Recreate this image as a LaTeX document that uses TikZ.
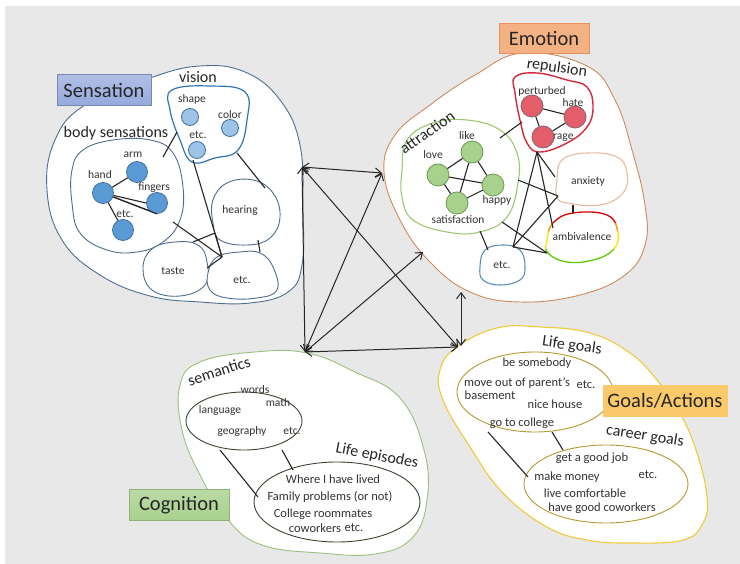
\documentclass[tikz,border=0pt]{standalone}
\usepackage{fontspec}
\setmainfont{Carlito}
\usetikzlibrary{arrows.meta}
\definecolor{bgc}{HTML}{E8E8E8}
\definecolor{sensc}{HTML}{4E6E8E}
\definecolor{visc}{HTML}{2E75B6}
\definecolor{vdot}{HTML}{9DC3E6}
\definecolor{bdot}{HTML}{5B9BD5}
\definecolor{dotln}{HTML}{41719C}
\definecolor{emoc}{HTML}{D08A5C}
\definecolor{emolab}{HTML}{F4B183}
\definecolor{emolabd}{HTML}{E8915A}
\definecolor{repc}{HTML}{D42A3C}
\definecolor{rdot}{HTML}{E35D6A}
\definecolor{rdotd}{HTML}{8C6070}
\definecolor{attc}{HTML}{9CC870}
\definecolor{gdot}{HTML}{A9D18E}
\definecolor{gdotd}{HTML}{6E9A50}
\definecolor{anxc}{HTML}{EDBB9A}
\definecolor{etcc}{HTML}{5B8FC0}
\definecolor{cogc}{HTML}{9CBF7C}
\definecolor{coglab}{HTML}{A9D18E}
\definecolor{innc}{HTML}{3C4530}
\definecolor{goalc}{HTML}{EFCB3A}
\definecolor{goalin}{HTML}{B8982E}
\definecolor{goallab}{HTML}{F9C96A}
\definecolor{senslab}{HTML}{95AADD}
\definecolor{txt}{HTML}{333333}
\tikzset{
  blob/.style={line width=0.9pt, fill=white},
  conn/.style={line width=1.1pt, draw=black!85},
  arr/.style={line width=1pt, draw=black!85, {Straight Barb[length=6pt,width=9pt]}-{Straight Barb[length=6pt,width=9pt]}},
  itm/.style={font=\fontsize{11.5}{13}\selectfont, text=txt, inner sep=0pt},
  itmb/.style={font=\fontsize{12.5}{14}\selectfont, text=txt, inner sep=0pt},
  grp/.style={font=\fontsize{16}{18}\selectfont, text=black!85, inner sep=0pt},
  biglab/.style={font=\fontsize{20.5}{24}\selectfont, text=black!85, inner sep=0pt},
  vdotst/.style={circle, fill=vdot, draw=dotln, line width=0.8pt, minimum size=17pt, inner sep=0pt},
  bdotst/.style={circle, fill=bdot, draw=dotln, line width=0.8pt, minimum size=21pt, inner sep=0pt},
  rdotst/.style={circle, fill=rdot, draw=rdotd, line width=0.8pt, minimum size=22pt, inner sep=0pt},
  gdotst/.style={circle, fill=gdot, draw=gdotd, line width=0.8pt, minimum size=22pt, inner sep=0pt},
}
\newcommand\ambdraw[1]{\draw[#1] plot[smooth cycle, tension=0.7] coordinates {(547,240) (553,223) (573,213) (607,215) (618,233) (613,250) (593,260) (567,262) (548,253)};}
\begin{document}
\begin{tikzpicture}[x=1pt,y=-1pt]
\useasboundingbox (0,0) rectangle (740,564);
\fill[white] (0,0) rectangle (740,564);
\fill[bgc] (5,6) rectangle (740,564);

% ---------------- Sensation ----------------
\draw[blob, draw=sensc] plot[smooth cycle, tension=0.7] coordinates {(150,78) (200,66) (245,72) (280,100) (300,145) (303,210) (302,265) (288,292) (250,303) (200,302) (150,296) (100,275) (62,240) (47,190) (55,140) (85,105)};
% body sensations group
\draw[blob, draw=sensc] plot[smooth cycle, tension=0.7] coordinates {(72,170) (83,150) (113,140) (150,140) (173,153) (183,187) (180,220) (163,242) (137,252) (107,250) (80,233) (72,203)};
% vision group
\draw[blob, draw=visc, line width=1.2pt] plot[smooth cycle, tension=0.7] coordinates {(172,90) (210,86) (245,92) (247,120) (238,150) (215,158) (192,162) (180,140) (170,110)};
% hearing, taste, etc
\draw[blob, draw=sensc] plot[smooth cycle, tension=0.7] coordinates {(213,200) (227,183) (253,180) (273,193) (280,217) (270,238) (247,245) (220,240) (213,223)};
\draw[blob, draw=sensc] plot[smooth cycle, tension=0.7] coordinates {(143,268) (152,249) (175,242) (198,245) (207,262) (205,285) (180,296) (152,290)};
\draw[blob, draw=sensc] plot[smooth cycle, tension=0.7] coordinates {(208,273) (217,257) (240,252) (260,253) (273,267) (277,290) (257,298) (227,298) (210,290)};

\node[biglab, draw=senslab!80!black, top color=senslab!75!white, bottom color=senslab, minimum width=94pt, minimum height=31pt] (senslab) at (104,90) {Sensation};
\node[grp] (vislab) at (198,77) {vision};
\node[grp] (bslab) at (116,133) {body sensations};

\node[vdotst] (shape) at (190,117) {};
\node[vdotst] (color) at (230,128) {};
\node[vdotst] (vetc) at (197,150) {};
\node[itm] at (192,99) {shape};
\node[itm] at (230,115) {color};
\node[itm] at (198,135) {etc.};

\node[bdotst] (arm) at (137,172) {};
\node[bdotst] (hand) at (103,193) {};
\node[bdotst] (fingers) at (157,203) {};
\node[bdotst] (betc) at (123,230) {};
\node[itm] at (133,155) {arm};
\node[itm] at (100,175) {hand};
\node[itm] at (154,188) {fingers};
\node[itm] at (125,214) {etc.};
\draw[conn] (hand) -- (arm);
\draw[conn] (hand) -- (betc);
\draw[conn] (hand) -- (fingers.west);
\draw[conn] (hand) -- (fingers.south west);
\draw[conn] (hand) -- (fingers.south);

\node[itm] at (240,210) {hearing};
\node[itm] at (173,271) {taste};
\node[itm] at (242,280) {etc.};

\coordinate (bs1) at (163,157);
\coordinate (vis1) at (177,132);
\coordinate (vis2) at (193,160);
\coordinate (vis3) at (237,153);
\coordinate (hear1) at (265,188);
\coordinate (j1) at (222,257);
\coordinate (bs2) at (173,222);
\coordinate (taste1) at (193,242);
\coordinate (hear2) at (215,233);
\coordinate (taste2) at (207,268);
\coordinate (hear3) at (258,240);
\coordinate (setc1) at (260,252);
\draw[conn] (bs1) -- (vis1);
\draw[conn] (vis2) -- (j1);
\draw[conn] (vis3) -- (hear1);
\draw[conn] (bs2) -- (j1);
\draw[conn] (taste1) -- (hear2);
\draw[conn] (taste2) -- (j1);
\draw[conn] (hear2) -- (j1);
\draw[conn] (hear3) -- (setc1);

% ---------------- Emotion ----------------
\draw[blob, draw=emoc] plot[smooth cycle, tension=0.7] coordinates {(523,53) (587,66) (615,100) (632,150) (645,205) (645,245) (625,275) (580,295) (520,302) (470,292) (430,262) (400,220) (384,172) (395,135) (430,105) (475,75)};
\draw[blob, draw=repc, line width=1.4pt] plot[smooth cycle, tension=0.7] coordinates {(515,77) (537,73) (567,80) (587,87) (593,107) (587,127) (567,143) (540,152) (527,143) (520,120) (515,93)};
\draw[blob, draw=attc, line width=1.1pt] plot[smooth cycle, tension=0.7] coordinates {(402,170) (407,140) (433,123) (467,120) (500,130) (517,153) (518,183) (507,217) (480,232) (447,232) (413,220) (402,197)};
\draw[blob, draw=anxc, line width=1.1pt] plot[smooth cycle, tension=0.7] coordinates {(557,180) (562,160) (587,153) (617,157) (627,173) (623,193) (600,205) (567,203) (557,197)};
\ambdraw{fill=white, draw=none}
\begin{scope}
\clip (530,200) rectangle (640,224);
\ambdraw{draw=red!85!black, line width=1.3pt}
\end{scope}
\begin{scope}
\clip (530,224) rectangle (640,232);
\ambdraw{draw=orange!90!yellow, line width=1.3pt}
\end{scope}
\begin{scope}
\clip (530,232) rectangle (640,250);
\ambdraw{draw=yellow!85!orange, line width=1.3pt}
\end{scope}
\begin{scope}
\clip (530,250) rectangle (640,275);
\ambdraw{draw=green!55!yellow!80!black, line width=1.3pt}
\end{scope}
\draw[blob, draw=etcc, line width=1.1pt] plot[smooth cycle, tension=0.7] coordinates {(480,267) (485,250) (503,245) (520,250) (525,267) (520,280) (500,285) (483,280)};

\node[biglab, draw=emolabd, fill=emolab, minimum width=90pt, minimum height=30pt] (emolab) at (544,38) {Emotion};
\node[grp, rotate=-8] at (557,68) {repulsion};
\node[grp, rotate=35] at (427,132) {attraction};

\node[itm, anchor=west] at (553,138) {rage};
\node[rdotst] (pert) at (532,106) {};
\node[rdotst] (hate) at (575,117) {};
\node[rdotst] (rage) at (543,137) {};
\node[itm] at (542,91) {perturbed};
\node[itm] at (573,103) {hate};
\draw[conn] (pert) -- (hate);
\draw[conn] (rage) -- (hate);
\draw[conn] (pert) -- (rage);

\node[gdotst] (like) at (472,152) {};
\node[gdotst] (love) at (438,175) {};
\node[gdotst] (happy) at (493,185) {};
\node[gdotst] (satis) at (457,203) {};
\draw[conn] (love) -- (like);
\draw[conn] (like) -- (happy);
\draw[conn] (love) -- (satis);
\draw[conn] (satis) -- (like);
\draw[conn] (love) -- (happy);
\draw[conn] (satis) -- (happy);
\node[itm] at (467,136) {like};
\node[itm] at (433,155) {love};
\node[itm] at (497,200) {happy};
\node[itm] at (458,220) {satisfaction};

\node[itm] at (588,181) {anxiety};
\node[itm] at (582,237) {ambivalence};
\node[itm] at (502,265) {etc.};

\coordinate (att1) at (500,138);
\coordinate (rep1) at (522,122);
\coordinate (rep2) at (537,152);
\coordinate (j2) at (513,247);
\coordinate (amb1) at (553,228);
\coordinate (anx1) at (555,177);
\coordinate (att2) at (518,180);
\coordinate (anx2) at (558,196);
\coordinate (amb2) at (547,253);
\coordinate (att3) at (502,222);
\coordinate (att4) at (480,231);
\coordinate (eetc2) at (488,250);
\coordinate (anx3) at (573,205);
\coordinate (amb3) at (573,213);
\draw[conn] (att1) -- (rep1);
\draw[conn] (rep2) -- (j2);
\draw[conn] (rep2) -- (amb1);
\draw[conn] (rep2) -- (anx1);
\draw[conn] (att2) -- (anx2);
\draw[conn] (j2) -- (anx2);
\draw[conn] (j2) -- (amb2);
\draw[conn] (att3) -- (amb2);
\draw[conn] (att4) -- (eetc2);
\draw[conn] (anx3) -- (amb3);

% ---------------- Cognition ----------------
\draw[blob, draw=cogc] plot[smooth cycle, tension=0.7] coordinates {(307,353) (355,372) (400,398) (424,450) (427,500) (412,538) (375,554) (320,553) (262,545) (228,520) (200,475) (182,430) (180,385) (200,362) (255,352)};
\draw[blob, draw=innc] (244,421) ellipse [x radius=58pt, y radius=29pt];
\draw[blob, draw=innc] (337,502) ellipse [x radius=83pt, y radius=40pt];
\node[biglab, draw=coglab!85!black, top color=coglab!80!white, bottom color=coglab, minimum width=100pt, minimum height=31pt] (coglab) at (179,505) {Cognition};
\node[grp, rotate=18] at (219,371) {semantics};
\node[grp, rotate=-11] at (377,456) {Life episodes};
\node[itm] at (255,390) {words};
\node[itm] at (278,403) {math};
\node[itm] at (220,410) {language};
\node[itm] at (242,431) {geography};
\node[itm] at (292,431) {etc.};
\node[itmb] at (333,479) {Where I have lived};
\node[itmb] at (330,497) {Family problems (or not)};
\node[itmb] at (323,514) {College roommates};
\node[itmb] at (315,528) {coworkers};
\node[itmb] at (354,528) {etc.};
\coordinate (sem1) at (220,450);
\coordinate (le1) at (258,497);
\coordinate (sem2) at (282,450);
\coordinate (le2) at (293,470);
\draw[conn] (sem1) -- (le1);
\draw[conn] (sem2) -- (le2);

% ---------------- Goals ----------------
\draw[blob, draw=goalc, line width=1.1pt] plot[smooth cycle, tension=0.7] coordinates {(457,347) (497,328) (540,327) (590,333) (630,353) (657,380) (680,413) (697,453) (707,497) (703,523) (683,540) (630,543) (587,540) (547,527) (503,493) (470,447) (443,400) (440,370)};
\draw[blob, draw=goalin] (535,392) ellipse [x radius=78pt, y radius=40pt];
\draw[blob, draw=goalin] (606,484) ellipse [x radius=82pt, y radius=39pt];
\node[biglab, fill=goallab, minimum width=125pt, minimum height=32pt] (goallab) at (665,401) {Goals/Actions};
\node[grp, rotate=-8] at (572,346) {Life goals};
\node[grp, rotate=-9] at (645,436) {career goals};
\node[itmb] at (537,363) {be somebody};
\node[itmb] at (517,383) {move out of parent’s};
\node[itmb] at (490,395) {basement};
\node[itmb] at (586,385) {etc.};
\node[itmb] at (555,404) {nice house};
\node[itmb] at (522,423) {go to college};
\node[itmb] at (592,458) {get a good job};
\node[itmb] at (567,477) {make money};
\node[itmb] at (648,475) {etc.};
\node[itmb] at (585,493) {live comfortable};
\node[itmb] at (602,508) {have good coworkers};
\coordinate (lg1) at (488,432);
\coordinate (cg1) at (528,477);
\coordinate (lg2) at (552,432);
\coordinate (cg2) at (563,450);
\draw[conn] (lg1) -- (cg1);
\draw[conn] (lg2) -- (cg2);

% ---------------- Arrows ----------------
\coordinate (S) at (302,167);
\coordinate (E) at (382,173);
\coordinate (C) at (305,352);
\coordinate (G) at (458,347);
\coordinate (E2) at (423,252);
\coordinate (E3) at (461,292);
\coordinate (G2) at (461,346);
\draw[arr] (S) -- (E);
\draw[arr] (S) -- (C);
\draw[arr] (S) -- (G);
\draw[arr] (C) -- (E);
\draw[arr] (C) -- (E2);
\draw[arr] (C) -- (G);
\draw[arr] (G2) -- (E3);
\end{tikzpicture}
\end{document}
